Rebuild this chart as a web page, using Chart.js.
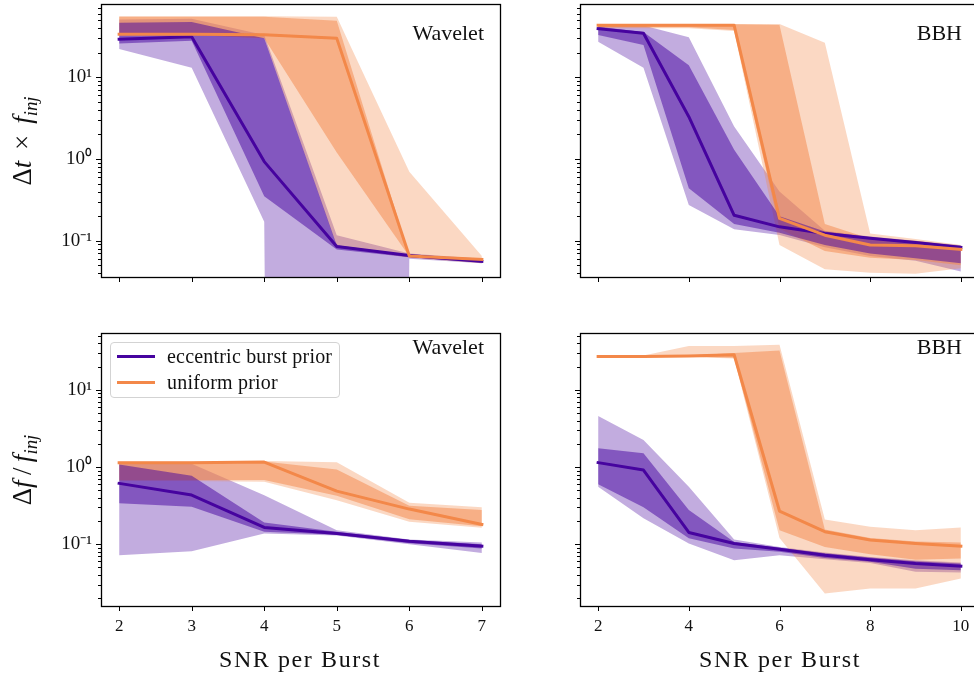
<!DOCTYPE html>
<html><head><meta charset="utf-8">
<script src="https://cdn.jsdelivr.net/npm/chart.js@4.4.1/dist/chart.umd.min.js"></script>
<style>
html,body{margin:0;padding:0;background:#fff;overflow:hidden;}
#wrap{position:relative;width:974px;height:673px;overflow:hidden;background:#fff;}
canvas{position:absolute;}
.t{position:absolute;font-family:'Liberation Serif','Times New Roman',serif;color:#111;white-space:nowrap;line-height:1;z-index:5;}
.yt{position:absolute;font-family:'Liberation Serif',serif;font-size:27px;color:#111;white-space:nowrap;line-height:1;transform:translate(-50%,-50%) rotate(-90deg);z-index:5;}
.yt sub{font-size:0.7em;vertical-align:-0.3em;}
#legend{position:absolute;left:110px;top:342px;width:228px;height:54px;border:1px solid #d3d3d3;border-radius:4px;background:rgba(255,255,255,0.85);z-index:6;}
.lh{position:absolute;left:6px;width:38px;height:3px;}
.lt{position:absolute;left:56px;font-family:'Liberation Serif',serif;font-size:20px;letter-spacing:0.2px;color:#111;white-space:nowrap;line-height:1;}
</style></head><body><div id="wrap">
<canvas id="c0" width="520" height="300" style="left:0;top:0"></canvas>
<canvas id="c1" width="520" height="300" style="left:480px;top:0"></canvas>
<canvas id="c2" width="520" height="363" style="left:0;top:310px"></canvas>
<canvas id="c3" width="520" height="363" style="left:480px;top:310px"></canvas>

<div class="t" style="font-size:22px;right:490px;top:22px">Wavelet</div>
<div class="t" style="font-size:22px;right:12px;top:22px">BBH</div>
<div class="t" style="font-size:22px;right:490px;top:336px">Wavelet</div>
<div class="t" style="font-size:22px;right:12px;top:336px">BBH</div>

<div class="yt" style="left:25px;top:141px">Δ<i>t</i>&#8201;&#8201;×&#8201;&#8201;<i>f</i><sub><i>inj</i></sub></div>
<div class="yt" style="left:25px;top:470px">Δ<i>f</i>&#8201;/&#8201;<i>f</i><sub><i>inj</i></sub></div>

<div class="t" style="font-size:24px;letter-spacing:1.6px;left:300px;top:647px;transform:translateX(-50%)">SNR per Burst</div>
<div class="t" style="font-size:24px;letter-spacing:1.6px;left:780px;top:647px;transform:translateX(-50%)">SNR per Burst</div>

<div id="legend">
  <div class="lh" style="top:12px;background:#46039f"></div>
  <div class="lt" style="top:3px">eccentric burst prior</div>
  <div class="lh" style="top:38px;background:#f38849"></div>
  <div class="lt" style="top:29px">uniform prior</div>
</div>
</div>
<script>
// ---------- data ----------
const snrWavelet = [2, 3, 4, 5, 6, 7];
const snrBBH = [2, 3, 4, 5, 6, 7, 8, 9, 10];
const xTicksWavelet = [2, 3, 4, 5, 6, 7];
const xTicksBBH = [2, 4, 6, 8, 10];
const yMajorTicks = [0.1, 1, 10];
const NEAR_ZERO = 1e-100;

// Delta t x f_inj, Wavelet
const dtWavEccMed  = [29.2, 31.4, 0.93, 0.085, 0.066, 0.056];
const dtWavEccHi50 = [46.5, 47.5, 30, 0.088, 0.067, 0.058];
const dtWavEccLo50 = [26, 28, 0.35, 0.078, 0.063, 0.054];
const dtWavEccHi90 = [51, 52, 33, 0.117, 0.07, 0.06];
const dtWavEccLo90 = [22.2, 13.1, 0.171, NEAR_ZERO, 0.06, 0.053];
const dtWavUniMed  = [33.6, 33.6, 33.2, 30, 0.065, 0.059];
const dtWavUniHi50 = [55, 55, 55, 49.3, 0.066, 0.06];
const dtWavUniLo50 = [33, 33, 30, 1.2, 0.064, 0.058];
const dtWavUniHi90 = [56, 56, 56, 55, 0.70, 0.065];
const dtWavUniLo90 = [33, 33, 30, 0.085, 0.062, 0.053];

// Delta t x f_inj, BBH
const dtBbhEccMed  = [39.4, 34.6, 3.3, 0.205, 0.148, 0.123, 0.107, 0.095, 0.083];
const dtBbhEccHi50 = [41.6, 36, 14.1, 1.3, 0.2, 0.13, 0.11, 0.098, 0.086];
const dtBbhEccLo50 = [33, 24.8, 0.44, 0.16, 0.125, 0.089, 0.070, 0.061, 0.053];
const dtBbhEccHi90 = [44, 43, 31, 2.5, 0.4, 0.133, 0.113, 0.1, 0.088];
const dtBbhEccLo90 = [27.3, 13.1, 0.274, 0.138, 0.118, 0.083, 0.065, 0.057, 0.042];
const dtBbhUniMed  = [43.3, 43.3, 43.3, 43.3, 0.188, 0.117, 0.0885, 0.087, 0.0785];
const dtBbhUniHi50 = [44.5, 44.5, 44.5, 44.5, 43.7, 0.16, 0.106, 0.1, 0.085];
const dtBbhUniLo50 = [41, 41, 41, 38, 0.14, 0.075, 0.062, 0.058, 0.05];
const dtBbhUniHi90 = [45, 45, 45, 45, 45, 26.5, 0.123, 0.105, 0.0885];
const dtBbhUniLo90 = [40, 40, 40, 37, 0.089, 0.0447, 0.0407, 0.0395, 0.046];

// Delta f / f_inj, Wavelet
const dfWavEccMed  = [0.614, 0.433, 0.165, 0.138, 0.109, 0.094];
const dfWavEccHi50 = [1.08, 0.77, 0.191, 0.145, 0.113, 0.1];
const dfWavEccLo50 = [0.338, 0.305, 0.145, 0.132, 0.103, 0.088];
const dfWavEccHi90 = [1.15, 1.1, 0.43, 0.152, 0.115, 0.105];
const dfWavEccLo90 = [0.072, 0.081, 0.138, 0.13, 0.1, 0.077];
const dfWavUniMed  = [1.14, 1.14, 1.16, 0.487, 0.285, 0.18];
const dfWavUniHi50 = [1.16, 1.16, 1.18, 0.93, 0.314, 0.277];
const dfWavUniLo50 = [0.68, 0.68, 0.68, 0.425, 0.211, 0.171];
const dfWavUniHi90 = [1.18, 1.18, 1.2, 1.15, 0.344, 0.3];
const dfWavUniLo90 = [0.66, 0.66, 0.646, 0.372, 0.195, 0.163];

// Delta f / f_inj, BBH
const dfBbhEccMed  = [1.14, 0.914, 0.142, 0.102, 0.086, 0.072, 0.063, 0.056, 0.052];
const dfBbhEccHi50 = [1.75, 1.51, 0.277, 0.107, 0.09, 0.076, 0.067, 0.06, 0.056];
const dfBbhEccLo50 = [0.60, 0.30, 0.119, 0.088, 0.08, 0.066, 0.059, 0.048, 0.046];
const dfBbhEccHi90 = [4.6, 2.24, 0.556, 0.115, 0.092, 0.078, 0.068, 0.062, 0.058];
const dfBbhEccLo90 = [0.556, 0.216, 0.102, 0.062, 0.072, 0.064, 0.057, 0.044, 0.043];
const dfBbhUniMed  = [27.1, 27.1, 27.5, 28.5, 0.269, 0.145, 0.113, 0.102, 0.094];
const dfBbhUniHi50 = [27.6, 27.6, 27.8, 30, 32.4, 0.155, 0.12, 0.108, 0.105];
const dfBbhUniLo50 = [26.7, 26.7, 26.9, 26, 0.152, 0.092, 0.074, 0.063, 0.065];
const dfBbhUniHi90 = [27.6, 28, 37, 37, 38.4, 0.209, 0.168, 0.152, 0.165];
const dfBbhUniLo90 = [26.5, 26.5, 26.7, 25.5, 0.12, 0.023, 0.0266, 0.0266, 0.0358];

// ---------- styling ----------
const ECC = [70, 3, 159];
const UNI = [243, 136, 73];
const rgba = (c, a) => `rgba(${c[0]},${c[1]},${c[2]},${a})`;
const FONT = "'Liberation Serif','Times New Roman',serif";
const SUP = {'-1': '⁻¹', '0': '⁰', '1': '¹', '-2': '⁻²', '2': '²'};

function pts(x, y) { return x.map((v, i) => ({x: v, y: y[i]})); }
function band(x, lo, hi, col, alpha, order) {
  return [
    {data: pts(x, hi), borderWidth: 0, pointRadius: 0, fill: false, order},
    {data: pts(x, lo), borderWidth: 0, pointRadius: 0, fill: '-1', backgroundColor: rgba(col, alpha), order}
  ];
}
function line(x, y, col, order) {
  return {data: pts(x, y), borderColor: rgba(col, 1), borderWidth: 3, pointRadius: 0, fill: false,
          order, borderJoinStyle: 'round', borderCapStyle: 'square', tension: 0};
}
function zeroPad(s) { s.paddingTop = 0; s.paddingBottom = 0; s.paddingLeft = 0; s.paddingRight = 0; }

const framePlugin = {
  id: 'frame',
  afterDatasetsDraw(chart) {
    const {ctx, chartArea: a, scales} = chart;
    ctx.save();
    ctx.strokeStyle = '#000';
    ctx.lineWidth = 1;
    ctx.beginPath();
    scales.x.ticks.forEach(t => {
      const px = Math.round(scales.x.getPixelForValue(t.value)) + 0.5;
      ctx.moveTo(px, a.bottom); ctx.lineTo(px, a.bottom + 5);
    });
    const ys = scales.y;
    for (let e = -3; e <= 2; e++) {
      for (let m = 1; m <= 9; m++) {
        const v = m * Math.pow(10, e);
        if (v < ys.min || v > ys.max) continue;
        const py = Math.round(ys.getPixelForValue(v)) + 0.5;
        ctx.moveTo(a.left, py); ctx.lineTo(a.left - (m === 1 ? 5 : 3), py);
      }
    }
    ctx.stroke();
    ctx.lineWidth = 1.3;
    ctx.strokeRect(Math.round(a.left) + 0.5, Math.round(a.top) + 0.5, Math.round(a.right - a.left), Math.round(a.bottom - a.top));
    ctx.restore();
  }
};

function makePanel(id, cfg) {
  const ds = [
    ...band(cfg.x, cfg.eccLo90, cfg.eccHi90, ECC, 0.33, 60),
    ...band(cfg.x, cfg.uniLo90, cfg.uniHi90, UNI, 0.33, 50),
    ...band(cfg.x, cfg.uniLo50, cfg.uniHi50, UNI, 0.5, 40),
    ...band(cfg.x, cfg.eccLo50, cfg.eccHi50, ECC, 0.5, 30),
    line(cfg.x, cfg.eccMed, ECC, 20),
    line(cfg.x, cfg.uniMed, UNI, 10)
  ];
  new Chart(document.getElementById(id), {
    type: 'line',
    data: {datasets: ds},
    options: {
      responsive: false, animation: false, events: [],
      layout: {padding: cfg.padding},
      plugins: {legend: {display: false}, tooltip: {enabled: false}},
      scales: {
        x: {
          type: 'linear', min: cfg.xmin, max: cfg.xmax,
          afterBuildTicks: s => { s.ticks = cfg.xticks.map(v => ({value: v})); },
          afterFit: s => { s.height = cfg.xh; zeroPad(s); },
          grid: {display: false, drawTicks: true, tickLength: 5},
          border: {display: false},
          ticks: {display: cfg.showX, font: {family: FONT, size: 17}, color: '#111', padding: 5,
                  autoSkip: false, maxRotation: 0, callback: v => String(v)}
        },
        y: {
          type: 'logarithmic', min: cfg.ymin, max: cfg.ymax,
          afterBuildTicks: s => { s.ticks = yMajorTicks.filter(v => v >= cfg.ymin && v <= cfg.ymax).map(v => ({value: v})); },
          afterFit: s => { s.width = cfg.yw; zeroPad(s); },
          grid: {display: false, drawTicks: true, tickLength: 5},
          border: {display: false},
          ticks: {display: cfg.showY, font: {family: FONT, size: 19}, color: '#111', padding: 4,
                  callback: v => '10' + SUP[String(Math.round(Math.log10(v)))]}
        }
      }
    },
    plugins: [framePlugin]
  });
}

const topY = {ymin: 0.036, ymax: 79};
const botY = {ymin: 0.0158, ymax: 54.6};

makePanel('c0', {x: snrWavelet, xmin: 1.75, xmax: 7.25, xticks: xTicksWavelet, ...topY,
  showX: false, showY: true, yw: 101, xh: 23, padding: {left: 0, top: 4, right: 20, bottom: 0},
  eccMed: dtWavEccMed, eccLo50: dtWavEccLo50, eccHi50: dtWavEccHi50, eccLo90: dtWavEccLo90, eccHi90: dtWavEccHi90,
  uniMed: dtWavUniMed, uniLo50: dtWavUniLo50, uniHi50: dtWavUniHi50, uniLo90: dtWavUniLo90, uniHi90: dtWavUniHi90});
makePanel('c1', {x: snrBBH, xmin: 1.6, xmax: 10.4, xticks: xTicksBBH, ...topY,
  showX: false, showY: false, yw: 100, xh: 23, padding: {left: 0, top: 4, right: 21, bottom: 0},
  eccMed: dtBbhEccMed, eccLo50: dtBbhEccLo50, eccHi50: dtBbhEccHi50, eccLo90: dtBbhEccLo90, eccHi90: dtBbhEccHi90,
  uniMed: dtBbhUniMed, uniLo50: dtBbhUniLo50, uniHi50: dtBbhUniHi50, uniLo90: dtBbhUniLo90, uniHi90: dtBbhUniHi90});
makePanel('c2', {x: snrWavelet, xmin: 1.75, xmax: 7.25, xticks: xTicksWavelet, ...botY,
  showX: true, showY: true, yw: 101, xh: 67, padding: {left: 0, top: 23, right: 20, bottom: 0},
  eccMed: dfWavEccMed, eccLo50: dfWavEccLo50, eccHi50: dfWavEccHi50, eccLo90: dfWavEccLo90, eccHi90: dfWavEccHi90,
  uniMed: dfWavUniMed, uniLo50: dfWavUniLo50, uniHi50: dfWavUniHi50, uniLo90: dfWavUniLo90, uniHi90: dfWavUniHi90});
makePanel('c3', {x: snrBBH, xmin: 1.6, xmax: 10.4, xticks: xTicksBBH, ...botY,
  showX: true, showY: false, yw: 100, xh: 67, padding: {left: 0, top: 23, right: 21, bottom: 0},
  eccMed: dfBbhEccMed, eccLo50: dfBbhEccLo50, eccHi50: dfBbhEccHi50, eccLo90: dfBbhEccLo90, eccHi90: dfBbhEccHi90,
  uniMed: dfBbhUniMed, uniLo50: dfBbhUniLo50, uniHi50: dfBbhUniHi50, uniLo90: dfBbhUniLo90, uniHi90: dfBbhUniHi90});
</script>
</body></html>
